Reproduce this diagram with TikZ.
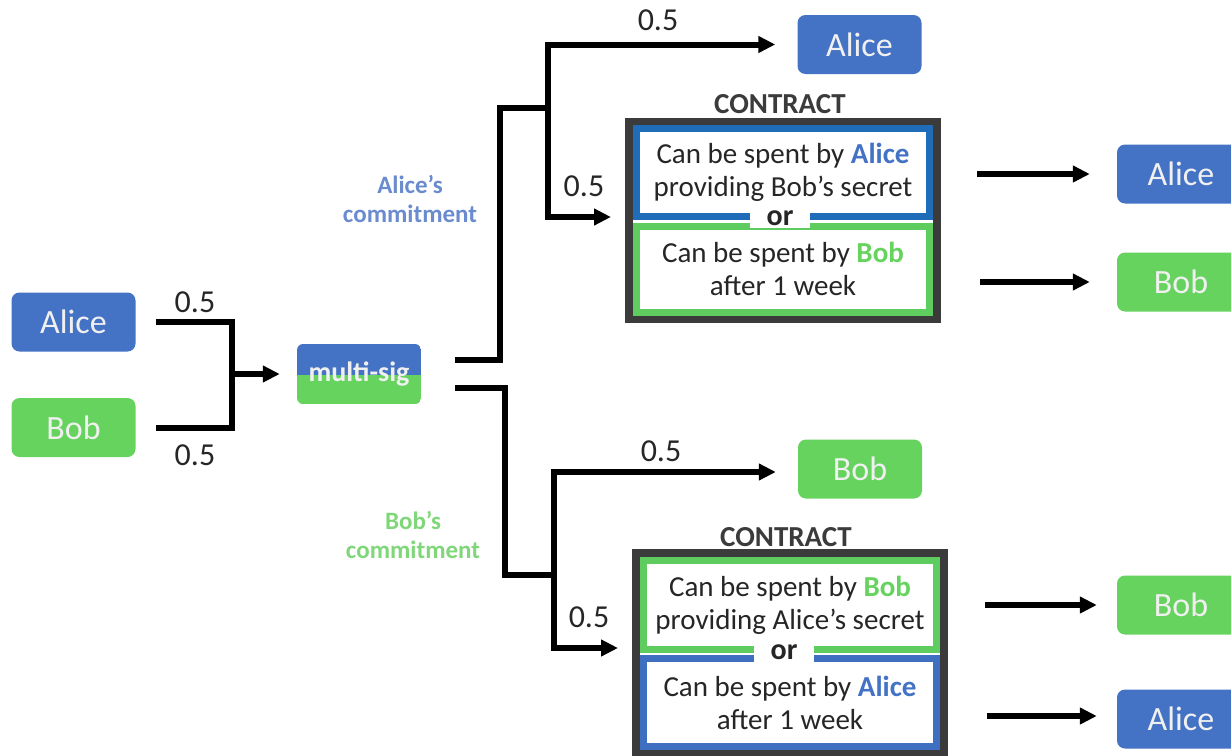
\documentclass[tikz,border=0pt]{standalone}
\usepackage{fontspec}
\setmainfont{Carlito}
\usetikzlibrary{arrows.meta}
\definecolor{cblue}{HTML}{4472C4}
\definecolor{cgreen}{HTML}{66D35E}
\definecolor{kblue}{HTML}{1F6CB8}
\definecolor{kblueb}{HTML}{3F6FC0}
\definecolor{kgreen}{HTML}{5ECC5E}
\definecolor{dark}{HTML}{3B3B3B}
\definecolor{txt}{HTML}{262626}
\definecolor{comblue}{HTML}{6A8BCE}
\definecolor{comgreen}{HTML}{80D77A}
\tikzset{
  namebox/.style={rounded corners=8pt, minimum width=124pt, minimum height=59pt, inner sep=0pt,
    text=white!94!black, font=\fontsize{34}{38}\selectfont},
  bluebox/.style={namebox, fill=cblue},
  greenbox/.style={namebox, fill=cgreen},
  conn/.style={line width=6pt, black, line join=miter},
  arr/.style={conn, -{Triangle[length=17pt,width=16pt]}},
  prob/.style={font=\fontsize{32}{34}\selectfont, text=txt, inner sep=0pt},
  outerbox/.style={draw=dark, line width=8pt, minimum width=308pt, inner sep=0pt},
  innerbox/.style={line width=7pt, minimum width=293pt, inner sep=0pt, align=center,
    font=\fontsize{29}{33}\selectfont, text=txt},
  orlabel/.style={fill=white, inner xsep=17pt, inner ysep=2pt, font=\bfseries\fontsize{30}{30}\selectfont, text=txt},
  contractlbl/.style={font=\bfseries\fontsize{29}{30}\selectfont, text=dark, inner sep=0pt},
  commit/.style={font=\bfseries\fontsize{25}{29}\selectfont, align=center, inner sep=0pt},
}
\begin{document}
\begin{tikzpicture}[x=1pt, y=-1pt]
\useasboundingbox (0,0) rectangle (1231,755);
\clip (0,0) rectangle (1231,755);
\fill[white] (0,0) rectangle (1231,755);

% left inputs
\node[bluebox] (aL) at (73.5,322) {Alice};
\node[greenbox] (bL) at (73.5,427.5) {Bob};
\node[prob] (pL1) at (195,302) {0.5};
\node[prob] (pL2) at (195,455) {0.5};

% multi-sig
\node[minimum width=124pt, minimum height=60pt, rounded corners=6pt, inner sep=0pt,
  path picture={
    \fill[cblue, sharp corners] (path picture bounding box.north west) rectangle ([yshift=-1pt]path picture bounding box.east);
    \fill[cgreen, sharp corners] ([yshift=-1pt]path picture bounding box.west) rectangle (path picture bounding box.south east);
  },
  text=white!94!black, font=\bfseries\fontsize{28}{30}\selectfont] (ms) at (359,374) {multi-sig};

\coordinate (j1) at (232,374);
\draw[conn] ([xshift=20pt]aL.east) -| (j1);
\draw[conn] ([xshift=20pt]bL.east) -| (j1);
\draw[arr] (j1) -- ([xshift=-17pt]ms.west);

% upper branch
\coordinate (u0) at ([xshift=34pt,yshift=14pt]ms.east);
\coordinate (ua) at (500,108);
\coordinate (uj) at (548,108);
\node[bluebox] (aT) at (859.5,44.5) {Alice};
\node[outerbox, minimum height=197pt] (cT) at (783,220.5) {};
\node[innerbox, draw=kblue, minimum height=88pt] (cT1) at (783,172.5)
  {Can be spent by \textcolor{cblue}{\textbf{Alice}}\\providing Bob’s secret};
\node[innerbox, draw=kgreen, minimum height=86pt] (cT2) at (783,269)
  {Can be spent by \textcolor{cgreen}{\textbf{Bob}}\\after 1 week};
\node[orlabel] (orT) at (780,218) {or};
\node[contractlbl] (ctT) at (780,104) {CONTRACT};
\node[prob] (pU1) at (658,20) {0.5};
\node[prob] (pU2) at (584,186) {0.5};
\node[commit, text=comblue] (comA) at (410,199) {Alice’s\\commitment};

\draw[conn] (u0) -| (ua) -- (uj);
\draw[arr] (uj) |- ([xshift=-22pt]aT.west);
\draw[arr] (uj) |- ([xshift=-14pt,yshift=3.5pt]cT.west);

\node[bluebox, minimum width=128pt] (aR1) at (1181,174) {Alice};
\node[greenbox, minimum width=128pt] (bR1) at (1181,282) {Bob};
\coordinate (t1) at (977,174);
\coordinate (t2) at (980,282);
\draw[arr] (t1) -- ([xshift=-27pt]aR1.west);
\draw[arr] (t2) -- ([xshift=-27pt]bR1.west);

% lower branch
\coordinate (l0) at ([xshift=34pt,yshift=-14pt]ms.east);
\coordinate (la) at (505,575);
\coordinate (lj) at (554,575);
\node[greenbox] (bB) at (860,469) {Bob};
\node[outerbox, minimum height=201pt] (cB) at (790,653.5) {};
\node[innerbox, draw=kgreen, minimum height=89pt] (cB1) at (790,605)
  {Can be spent by \textcolor{cgreen}{\textbf{Bob}}\\providing Alice’s secret};
\node[innerbox, draw=kblueb, minimum height=88pt] (cB2) at (790,702.5)
  {Can be spent by \textcolor{cblue}{\textbf{Alice}}\\after 1 week};
\node[orlabel] (orB) at (784,652) {or};
\node[contractlbl] (ctB) at (786,537) {CONTRACT};
\node[prob] (pD1) at (661,451) {0.5};
\node[prob] (pD2) at (589,617) {0.5};
\node[commit, text=comgreen] (comB) at (413,535) {Bob’s\\commitment};

\draw[conn] (l0) -| (la) -- (lj);
\draw[arr] (lj) |- ([xshift=-22pt,yshift=-3pt]bB.west);
\draw[arr] (lj) |- ([xshift=-14pt,yshift=5.5pt]cB.west);

\node[greenbox, minimum width=128pt] (bR2) at (1181,605) {Bob};
\node[bluebox, minimum width=128pt] (aR2) at (1181,719) {Alice};
\coordinate (t3) at (985,605);
\coordinate (t4) at (987,716);
\draw[arr] (t3) -- ([xshift=-20pt]bR2.west);
\draw[arr] (t4) -- ([xshift=-20pt,yshift=3pt]aR2.west);
\end{tikzpicture}
\end{document}
